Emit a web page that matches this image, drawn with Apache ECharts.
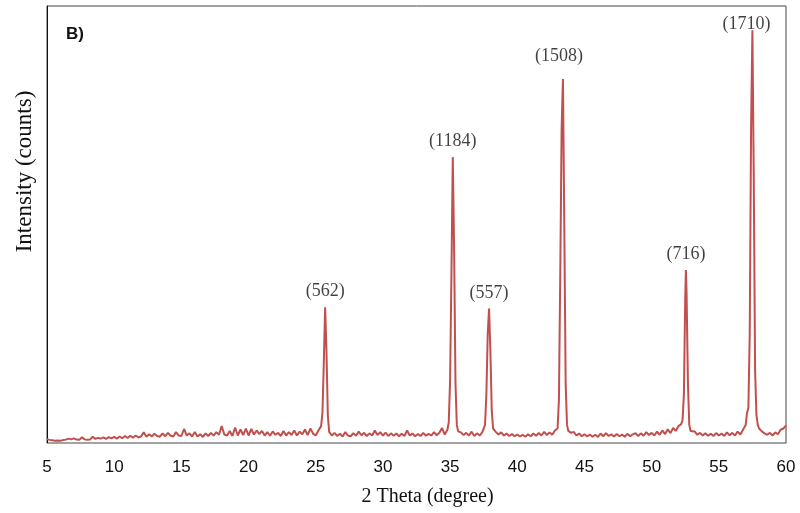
<!DOCTYPE html>
<html>
<head>
<meta charset="utf-8">
<script src="https://cdn.jsdelivr.net/npm/echarts@6/dist/echarts.min.js"></script>
<style>html,body{margin:0;padding:0;background:#fff;}#chart{width:800px;height:513px;}</style>
</head>
<body>
<div id="chart"></div>
<script>
// 2-theta positions (degree)
const twoTheta = [
  5.0,5.2,5.4,5.6,5.8,6.0,6.2,6.4,6.6,6.8,7.0,7.2,7.4,7.6,7.8,8.0,
  8.2,8.4,8.6,8.8,9.0,9.2,9.4,9.6,9.8,10.0,10.2,10.4,10.6,10.8,11.0,11.2,11.4,11.6,11.8,12.0,
  12.2,12.4,12.6,12.8,13.0,13.2,13.4,13.6,13.8,14.0,14.2,14.4,14.6,14.8,15.0,15.2,15.4,15.6,15.8,16.0,
  16.2,16.4,16.6,16.8,17.0,17.2,17.4,17.6,17.8,18.0,18.2,18.4,18.6,18.8,19.0,19.2,19.4,19.6,19.8,20.0,
  20.2,20.4,20.6,20.8,21.0,21.2,21.4,21.6,21.8,22.0,22.2,22.4,22.6,22.8,23.0,23.2,23.4,23.6,23.8,24.0,
  24.2,24.4,24.6,24.8,25.0,25.2,25.4,25.5,25.6,25.7,25.8,25.9,26.0,
  26.2,26.4,26.6,26.8,27.0,27.2,27.4,27.6,27.8,28.0,28.2,28.4,28.6,28.8,29.0,29.2,29.4,29.6,29.8,30.0,
  30.2,30.4,30.6,30.8,31.0,31.2,31.4,31.6,31.8,32.0,32.2,32.4,32.6,32.8,33.0,33.2,33.4,33.6,33.8,34.0,
  34.2,34.4,34.6,34.8,34.9,35.0,35.1,35.2,35.3,35.4,35.5,35.6,35.8,36.0,
  36.2,36.4,36.6,36.8,37.0,37.2,37.4,37.6,37.7,37.8,37.9,38.0,38.1,38.2,38.4,38.6,38.8,39.0,
  39.2,39.4,39.6,39.8,40.0,40.2,40.4,40.6,40.8,41.0,41.2,41.4,41.6,41.8,42.0,42.2,42.4,42.6,42.8,43.0,
  43.1,43.2,43.3,43.4,43.5,43.6,43.7,43.8,44.0,
  44.2,44.4,44.6,44.8,45.0,45.2,45.4,45.6,45.8,46.0,46.2,46.4,46.6,46.8,47.0,47.2,47.4,47.6,47.8,48.0,
  48.2,48.4,48.6,48.8,49.0,49.2,49.4,49.6,49.8,50.0,50.2,50.4,50.6,50.8,51.0,51.2,51.4,51.6,51.8,52.0,
  52.2,52.3,52.4,52.5,52.55,52.6,52.7,52.8,52.9,53.0,
  53.2,53.4,53.6,53.8,54.0,54.2,54.4,54.6,54.8,55.0,55.2,55.4,55.6,55.8,56.0,56.2,56.4,56.6,56.8,57.0,
  57.1,57.2,57.3,57.4,57.5,57.6,57.7,57.8,57.9,58.0,
  58.2,58.4,58.6,58.8,59.0,59.2,59.4,59.6,59.8,60.0
];
// intensity (counts)
const intensity = [
  16,13,11,9,10,9,12,14,18,15,19,14,13,24,15,13,
  14,26,17,21,18,23,17,24,19,25,18,27,20,29,21,30,22,31,23,27,
  44,26,36,27,38,29,26,40,28,42,30,27,45,31,29,58,31,40,27,46,
  27,36,25,40,29,42,31,45,34,70,35,31,50,29,64,31,56,33,60,31,
  58,35,52,37,50,31,45,30,48,34,42,29,50,31,45,33,52,31,47,36,
  56,33,60,39,31,52,70,125,330,562,380,115,46,
  31,42,29,38,27,45,31,28,41,30,47,32,42,29,40,31,52,33,45,31,
  43,29,40,30,39,28,38,29,52,31,39,28,37,29,42,30,38,31,45,32,
  42,62,35,55,85,260,700,1184,800,250,75,48,44,33,
  42,31,47,29,40,31,45,75,200,450,557,380,135,60,46,35,44,31,
  39,29,37,28,35,27,34,26,36,28,39,30,42,31,46,33,44,34,52,60,
  180,700,1300,1508,900,250,75,50,42,
  46,31,39,28,36,27,35,26,34,25,39,28,41,29,36,27,37,28,35,26,
  38,28,36,41,29,40,30,45,33,42,31,47,34,52,37,57,41,62,50,70,
  78,95,200,600,716,620,250,75,50,44,
  48,34,42,31,40,30,38,29,41,31,39,29,44,32,42,31,47,35,55,75,
  125,145,450,1300,1710,1100,300,115,75,60,
  48,40,34,42,31,44,36,55,60,72
];
// labelled reflections
const peakTheta = [25.7, 35.2, 37.9, 43.4, 52.55, 57.5];
const peakCounts = [562, 1184, 557, 1508, 716, 1710];
const peakLabelShift = [[0,0],[0,0],[0,1],[-4,-7],[0,0],[-6,10]];

const chart = echarts.init(document.getElementById('chart'));
const lineData = twoTheta.map((t, i) => [t, intensity[i]]);
const peakData = peakTheta.map((t, i) => ({
  value: [t, peakCounts[i]],
  label: { offset: peakLabelShift[i] }
}));

chart.setOption({
  animation: false,
  backgroundColor: '#fff',
  grid: { left: 47, right: 14, top: 6, bottom: 70, outerBoundsMode: 'none', containLabel: false, show: true, borderColor: '#444', borderWidth: 1, backgroundColor: 'transparent' },
  xAxis: {
    type: 'value', min: 5, max: 60, interval: 5,
    name: '2 Theta (degree)', nameLocation: 'middle', nameGap: 44,
    nameTextStyle: { fontFamily: 'Liberation Serif', fontSize: 20, color: '#111', padding: [0, 0, 0, 22] },
    axisLine: { show: true, lineStyle: { color: '#9aa4ae', width: 1 } },
    axisTick: { show: false },
    splitLine: { show: false },
    axisLabel: { fontFamily: 'Liberation Sans', fontSize: 17, color: '#111', margin: 16 }
  },
  yAxis: {
    type: 'value', min: 0, max: 1810,
    name: 'Intensity (counts)', nameLocation: 'middle', nameGap: 11,
    nameTextStyle: { fontFamily: 'Liberation Serif', fontSize: 23, color: '#111', padding: [0, 0, 0, 106] },
    axisLine: { show: true, lineStyle: { color: '#111', width: 1 } },
    axisTick: { show: false },
    axisLabel: { show: false },
    splitLine: { show: false }
  },
  graphic: [
    { type: 'text', left: 66, top: 26, style: { text: 'B)', font: 'bold 17px "Liberation Sans"', fill: '#111' } }
  ],
  series: [
    {
      type: 'line', data: lineData, showSymbol: false, symbol: 'none',
      lineStyle: { color: '#c0504d', width: 2 }
    },
    {
      type: 'scatter', data: peakData, symbolSize: 0,
      label: {
        show: true, position: 'top', distance: 7,
        formatter: p => '(' + p.value[1] + ')',
        fontFamily: 'Liberation Serif', fontSize: 18, color: '#111'
      },
      z: 5
    }
  ]
});
</script>
</body>
</html>
